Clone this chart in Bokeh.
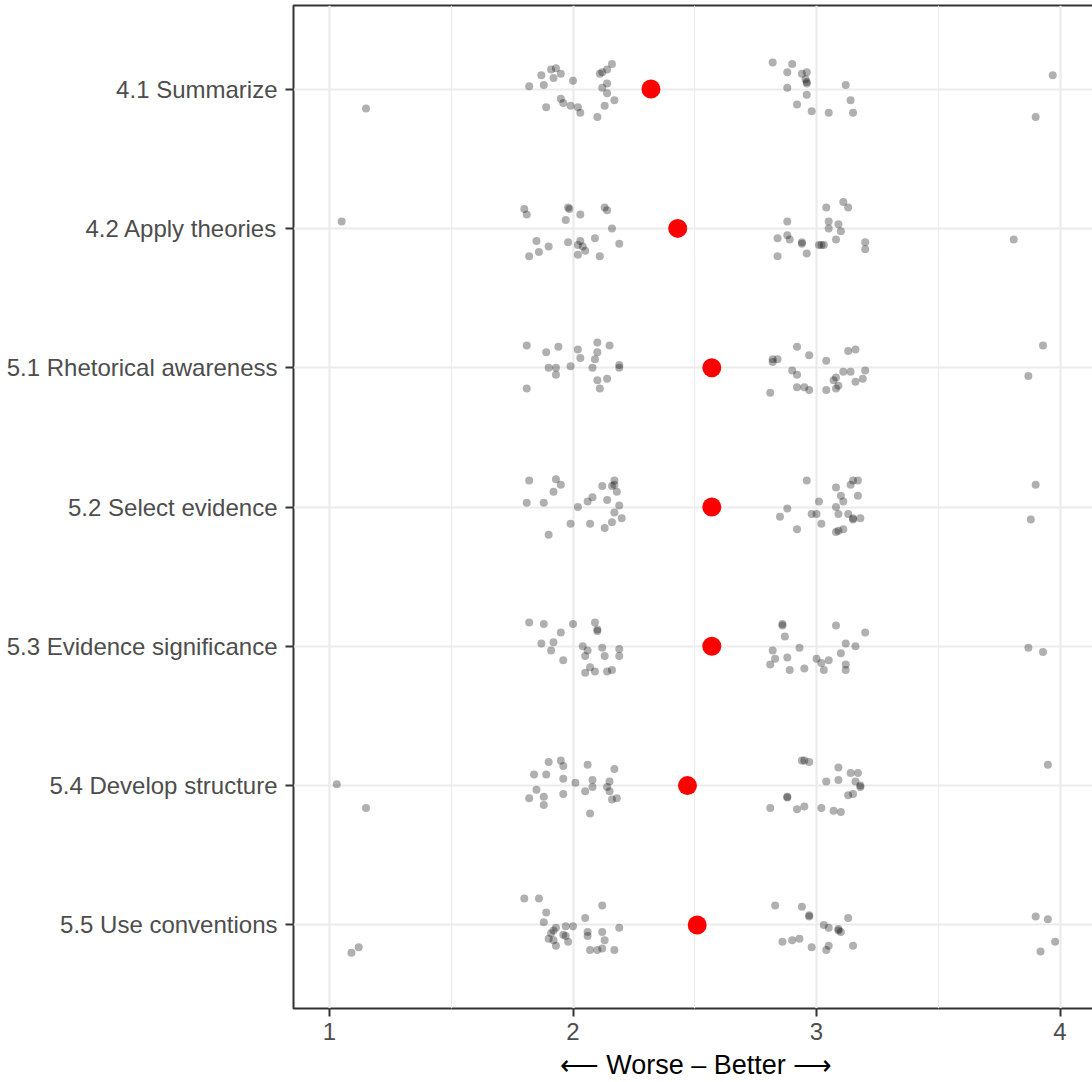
from bokeh.plotting import figure
from bokeh.models import ColumnDataSource, Range1d, FixedTicker
from bokeh.embed import file_html
from bokeh.resources import INLINE

categories = ["4.1 Summarize", "4.2 Apply theories", "5.1 Rhetorical awareness",
              "5.2 Select evidence", "5.3 Evidence significance",
              "5.4 Develop structure", "5.5 Use conventions"]

mean_scores = [2.32, 2.43, 2.57, 2.57, 2.57, 2.47, 2.51]

# individual (jittered) ratings: score value and vertical jitter (category units)
scores_4_1 = [1.82, 1.87, 1.88, 1.89, 1.91, 1.93, 1.92, 1.95, 2.00, 1.95, 1.96, 1.99, 2.02, 2.03, 2.10, 2.11,
              2.12, 2.14, 2.16, 2.14, 2.12, 2.14, 2.17, 2.13,
              2.82, 2.90, 2.88, 2.94, 2.96, 2.955, 2.96, 2.96, 2.88, 2.96, 2.92, 2.98, 3.05, 3.12, 3.14, 3.15,
              1.15, 3.97, 3.90]
jitter_4_1 = [-0.02, -0.10, -0.03, 0.13, -0.14, -0.15, -0.08, -0.11, -0.06, 0.07, 0.10, 0.12, 0.13, 0.17, 0.20, -0.11,
              -0.12, -0.14, -0.18, -0.04, -0.01, 0.03, 0.08, 0.12,
              -0.19, -0.18, -0.12, -0.11, -0.12, -0.07, -0.05, -0.04, -0.01, 0.04, 0.11, 0.16, 0.17, -0.03, 0.08, 0.17,
              0.14, -0.10, 0.20]

scores_4_2 = [1.80, 1.81, 1.98, 1.985, 2.03, 1.97, 2.13, 2.14, 2.16, 1.85, 1.90, 1.86, 1.82, 1.98, 2.03, 2.02,
              2.04, 2.05, 2.02, 2.09, 2.19, 2.11,
              2.88, 2.84, 2.88, 2.89, 2.94, 2.94, 2.96, 2.84, 3.01, 3.02, 3.03, 3.04, 3.11, 3.13, 3.05, 3.05,
              3.09, 3.10, 3.08, 3.20, 3.20,
              1.05, 3.81]
jitter_4_2 = [-0.14, -0.10, -0.15, -0.14, -0.10, -0.06, -0.15, -0.13, 0.00, 0.09, 0.13, 0.17, 0.20, 0.10, 0.09, 0.12,
              0.13, 0.16, 0.19, 0.07, 0.11, 0.20,
              -0.05, 0.07, 0.05, 0.08, 0.11, 0.10, 0.18, 0.20, 0.12, 0.12, 0.12, -0.15, -0.19, -0.15, -0.05, 0.00,
              -0.03, 0.02, 0.08, 0.10, 0.15,
              -0.05, 0.08]

scores_5_1 = [1.81, 1.89, 1.94, 2.02, 2.03, 2.10, 2.10, 2.09, 2.15, 1.90, 1.93, 1.93, 1.99, 2.08, 2.19, 2.19,
              2.10, 2.14, 2.11, 1.81,
              2.92, 2.97, 3.04, 2.82, 2.82, 2.84, 2.90, 2.92, 2.92, 2.95, 2.97, 2.81, 3.04, 3.13, 3.16, 3.11,
              3.14, 3.20, 3.19, 3.16, 3.08, 3.07, 3.09, 3.08,
              3.93, 3.87]
jitter_5_1 = [-0.16, -0.11, -0.15, -0.13, -0.07, -0.18, -0.11, -0.06, -0.16, 0.00, 0.00, 0.05, -0.01, 0.00, -0.02, 0.00,
              0.09, 0.08, 0.15, 0.15,
              -0.15, -0.09, -0.05, -0.06, -0.04, -0.06, 0.02, 0.05, 0.14, 0.14, 0.16, 0.18, 0.16, -0.12, -0.13, 0.03,
              0.03, 0.02, 0.08, 0.10, 0.07, 0.09, 0.13, 0.15,
              -0.16, 0.06]

scores_5_2 = [1.82, 1.93, 1.95, 1.92, 1.81, 1.88, 2.02, 2.06, 2.08, 2.12, 2.16, 2.17, 2.17, 2.18, 2.14, 2.19,
              2.17, 2.20, 2.16, 2.13, 2.07, 1.99, 1.90,
              2.96, 3.08, 3.14, 3.15, 3.17, 3.10, 3.17, 3.01, 3.11, 3.08, 2.88, 2.85, 2.98, 3.00, 2.92, 3.02,
              3.09, 3.13, 3.15, 3.15, 3.18, 3.08, 3.09, 3.11,
              3.90, 3.88]
jitter_5_2 = [-0.19, -0.20, -0.16, -0.11, -0.03, -0.03, 0.00, -0.04, -0.07, -0.15, -0.15, -0.16, -0.19, -0.11, -0.05, -0.01,
              0.04, 0.08, 0.11, 0.15, 0.12, 0.12, 0.20,
              -0.19, -0.14, -0.16, -0.19, -0.19, -0.08, -0.08, -0.04, -0.04, 0.00, 0.01, 0.07, 0.05, 0.05, 0.16, 0.12,
              0.05, 0.05, 0.09, 0.08, 0.08, 0.18, 0.17, 0.16,
              -0.16, 0.09]

scores_5_3 = [1.82, 1.88, 2.00, 1.95, 1.92, 1.87, 1.91, 1.96, 2.09, 2.10, 2.10, 2.04, 2.06, 2.05, 2.12, 2.13,
              2.19, 2.19, 2.07, 2.05, 2.09, 2.14, 2.16,
              2.86, 2.86, 2.87, 2.82, 2.93, 2.83, 2.81, 2.88, 2.89, 2.95, 3.00, 3.02, 3.03, 3.05, 3.08, 3.20,
              3.12, 3.16, 3.10, 3.12, 3.12,
              3.87, 3.93]
jitter_5_3 = [-0.17, -0.16, -0.16, -0.10, -0.03, -0.02, 0.03, 0.10, -0.17, -0.11, -0.12, 0.00, 0.03, 0.07, 0.01, 0.07,
              0.02, 0.07, 0.15, 0.19, 0.18, 0.18, 0.17,
              -0.16, -0.15, -0.07, 0.03, 0.01, 0.09, 0.13, 0.08, 0.17, 0.16, 0.09, 0.12, 0.17, 0.10, -0.15, -0.10,
              -0.02, 0.00, 0.05, 0.13, 0.17,
              0.01, 0.04]

scores_5_4 = [1.90, 1.95, 1.96, 1.84, 1.89, 1.96, 2.01, 1.85, 1.88, 1.82, 1.88, 1.96, 2.06, 2.08, 2.08, 2.05,
              2.15, 2.14, 2.15, 2.17, 2.16, 2.18, 2.07,
              2.94, 2.95, 2.97, 2.88, 2.88, 2.81, 2.92, 2.95, 3.02, 3.07, 3.10, 3.04, 3.09, 3.09, 3.14, 3.17,
              3.16, 3.18, 3.18, 3.15, 3.13,
              1.03, 1.15, 3.95]
jitter_5_4 = [-0.17, -0.18, -0.14, -0.08, -0.08, -0.05, -0.02, 0.03, 0.08, 0.09, 0.14, 0.06, -0.15, -0.04, 0.01, 0.04,
              -0.03, 0.01, 0.04, -0.12, 0.10, 0.09, 0.20,
              -0.18, -0.18, -0.17, 0.08, 0.085, 0.16, 0.17, 0.15, 0.16, 0.18, 0.19, -0.03, -0.13, -0.04, -0.09, -0.09,
              -0.03, 0.00, 0.01, 0.06, 0.07,
              -0.01, 0.16, -0.15]

scores_5_5 = [1.80, 1.86, 1.89, 1.88, 1.93, 1.92, 1.97, 2.00, 1.91, 1.90, 1.92, 1.96, 1.97, 1.93, 1.98, 2.05,
              2.12, 2.06, 2.06, 2.12, 2.13, 2.19, 2.07, 2.10, 2.12, 2.17,
              2.83, 2.94, 2.97, 2.97, 2.86, 2.90, 2.93, 2.98, 3.03, 3.05, 3.09, 3.10, 3.09, 3.13, 3.05, 3.04, 3.15,
              1.09, 1.12, 3.90, 3.95, 3.98, 3.92]
jitter_5_5 = [-0.19, -0.19, -0.09, -0.02, 0.02, 0.04, 0.01, 0.01, 0.06, 0.10, 0.11, 0.07, 0.08, 0.15, 0.12, -0.05,
              -0.14, 0.05, 0.08, 0.05, 0.11, 0.02, 0.18, 0.18, 0.17, 0.18,
              -0.14, -0.13, -0.07, -0.06, 0.12, 0.11, 0.10, 0.16, 0.00, 0.02, 0.04, 0.05, 0.03, -0.05, 0.15, 0.18, 0.15,
              0.20, 0.16, -0.06, -0.04, 0.12, 0.19]

all_scores = [scores_4_1, scores_4_2, scores_5_1, scores_5_2, scores_5_3, scores_5_4, scores_5_5]
all_jitter = [jitter_4_1, jitter_4_2, jitter_5_1, jitter_5_2, jitter_5_3, jitter_5_4, jitter_5_5]

xs, ys = [], []
for i, (sc, jt) in enumerate(zip(all_scores, all_jitter)):
    pos = i + 1
    for s, j in zip(sc, jt):
        xs.append(s)
        ys.append(pos + j)
pts = ColumnDataSource(dict(x=xs, y=ys))
means_src = ColumnDataSource(dict(x=mean_scores, y=list(range(1, len(categories) + 1))))

p = figure(width=1098, height=1082, output_backend="svg", toolbar_location=None,
           x_range=Range1d(0.8522, 4.158), y_range=Range1d(7.6, 0.4),
           min_border_left=293, min_border_right=0, min_border_top=5, min_border_bottom=73)
p.background_fill_color = "white"
p.border_fill_color = "white"
p.outline_line_color = "#333333"
p.outline_line_width = 2

p.scatter("x", "y", source=pts, size=8, fill_color="black", fill_alpha=0.31, line_color=None)
p.scatter("x", "y", source=means_src, size=19, fill_color="#FF0000", line_color=None)

p.xaxis.ticker = FixedTicker(ticks=[1, 2, 3, 4], minor_ticks=[1.5, 2.5, 3.5])
p.yaxis.ticker = FixedTicker(ticks=list(range(1, len(categories) + 1)))
p.yaxis.major_label_overrides = {i + 1: c for i, c in enumerate(categories)}

for ax in (p.xaxis, p.yaxis):
    ax.axis_line_color = None
    ax.major_tick_line_color = "#333333"
    ax.major_tick_line_width = 2
    ax.major_tick_out = 8
    ax.major_tick_in = 0
    ax.minor_tick_line_color = None
    ax.major_label_text_font = "Liberation Sans"
    ax.major_label_text_font_size = "24px"
    ax.major_label_text_color = "#4D4D4D"
p.xaxis.major_label_standoff = 6
p.yaxis.major_label_standoff = 8

p.xaxis.axis_label = "\u27f5 Worse \u2013 Better \u27f6"
p.xaxis.axis_label_text_font = "Liberation Sans"
p.xaxis.axis_label_text_font_size = "27px"
p.xaxis.axis_label_text_font_style = "normal"
p.xaxis.axis_label_text_color = "black"
p.xaxis.axis_label_standoff = 7

p.xgrid.grid_line_color = "#EBEBEB"
p.xgrid.grid_line_width = 2.2
p.xgrid.minor_grid_line_color = "#EBEBEB"
p.xgrid.minor_grid_line_width = 1.1
p.ygrid.grid_line_color = "#EBEBEB"
p.ygrid.grid_line_width = 2.2

open("out.html", "w").write(file_html(p, INLINE))
